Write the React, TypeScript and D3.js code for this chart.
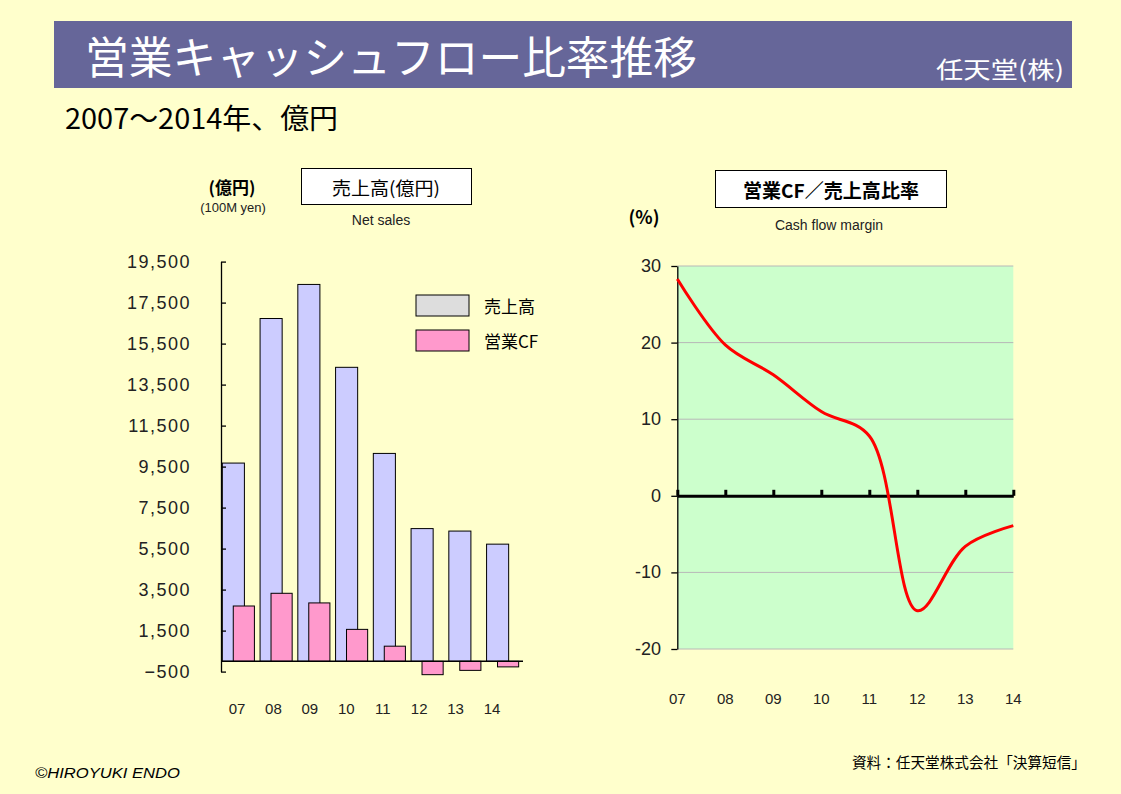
import { useEffect, useRef } from "react";
import * as d3 from "d3";

// fiscal years (20xx) and values
const years = ["07", "08", "09", "10", "11", "12", "13", "14"];
const netSales = [9672, 16724, 18386, 14343, 10143, 6476, 6355, 5717];
const operatingCF = [2700, 3320, 2850, 1560, 740, -650, -440, -270];
const cfMargin = [28.3, 19.7, 15.8, 11.0, 7.8, -15.0, -6.6, -3.9];
const salesTicks = [19500, 17500, 15500, 13500, 11500, 9500, 7500, 5500, 3500, 1500, -500];
const marginTicks = [30, 20, 10, 0, -10, -20];
const legendItems = [
  { label: "売上高", color: "#DDDDDD" },
  { label: "営業CF", color: "#FF99CC" },
];

const JP = "'Noto Sans CJK JP', 'Noto Sans', sans-serif";
const NUM = "'Liberation Sans', Arial, sans-serif";

export default function App() {
  const ref = useRef<HTMLDivElement>(null);

  useEffect(() => {
    document.body.style.margin = "0";
    const container = d3.select(ref.current);
    container.select("svg").remove();

    const W = 1121;
    const H = 794;
    const svg = container.append("svg")
      .attr("width", W)
      .attr("height", H)
      .style("display", "block");

    svg.append("rect").attr("width", W).attr("height", H).attr("fill", "#FFFFCC");

    // header bar
    svg.append("rect")
      .attr("x", 54).attr("y", 21).attr("width", 1018).attr("height", 67)
      .attr("fill", "#666699");
    svg.append("text")
      .attr("x", 85).attr("y", 55)
      .attr("dominant-baseline", "central")
      .attr("font-family", JP).attr("font-size", 44).attr("fill", "#fff")
      .attr("textLength", 612).attr("lengthAdjust", "spacingAndGlyphs")
      .text("営業キャッシュフロー比率推移");
    svg.append("text")
      .attr("x", 936).attr("y", 68)
      .attr("dominant-baseline", "central")
      .attr("font-family", JP).attr("font-size", 23).attr("fill", "#fff")
      .attr("textLength", 128).attr("lengthAdjust", "spacingAndGlyphs")
      .text("任天堂(株)");
    svg.append("text")
      .attr("x", 65).attr("y", 117)
      .attr("dominant-baseline", "central")
      .attr("font-family", JP).attr("font-size", 28).attr("fill", "#000")
      .attr("textLength", 273).attr("lengthAdjust", "spacingAndGlyphs")
      .text("2007～2014年、億円");

    // ---------- left chart: net sales and operating CF ----------
    const xL = d3.scaleBand().domain(years).range([221, 523]);
    const xLabel = d3.scalePoint().domain(years).range([237, 492]);
    const yL = d3.scaleLinear().domain([-500, 19500]).range([671.6, 261.6]);
    const bw = xL.bandwidth();

    const left = svg.append("g");

    left.append("text")
      .attr("x", 232).attr("y", 186).attr("text-anchor", "middle")
      .attr("dominant-baseline", "central")
      .attr("font-family", JP).attr("font-size", 17).attr("font-weight", "bold")
      .text("(億円)");
    left.append("text")
      .attr("x", 233).attr("y", 207).attr("text-anchor", "middle")
      .attr("dominant-baseline", "central")
      .attr("font-family", NUM).attr("font-size", 13).attr("fill", "#222")
      .text("(100M yen)");
    left.append("rect")
      .attr("x", 301.5).attr("y", 168.5).attr("width", 170).attr("height", 36)
      .attr("fill", "#fff").attr("stroke", "#000");
    left.append("text")
      .attr("x", 386).attr("y", 187).attr("text-anchor", "middle")
      .attr("dominant-baseline", "central")
      .attr("font-family", JP).attr("font-size", 18)
      .attr("textLength", 108).attr("lengthAdjust", "spacingAndGlyphs")
      .text("売上高(億円)");
    left.append("text")
      .attr("x", 381).attr("y", 220).attr("text-anchor", "middle")
      .attr("dominant-baseline", "central")
      .attr("font-family", NUM).attr("font-size", 14).attr("fill", "#222")
      .text("Net sales");

    left.selectAll(".sales")
      .data(netSales)
      .join("rect")
      .attr("x", (_, i) => (xL(years[i]) ?? 0) + bw * 0.035)
      .attr("width", bw * 0.585)
      .attr("y", d => yL(d))
      .attr("height", d => yL(0) - yL(d))
      .attr("fill", "#CCCCFF")
      .attr("stroke", "#000")
      .attr("stroke-width", 1);

    left.selectAll(".cf")
      .data(operatingCF)
      .join("rect")
      .attr("x", (_, i) => (xL(years[i]) ?? 0) + bw * 0.325)
      .attr("width", bw * 0.56)
      .attr("y", d => Math.min(yL(d), yL(0)))
      .attr("height", d => Math.abs(yL(0) - yL(d)))
      .attr("fill", "#FF99CC")
      .attr("stroke", "#000")
      .attr("stroke-width", 1);

    // y axis, ticks pointing into the plot
    const axL = left.append("g")
      .attr("transform", "translate(221,0)")
      .call(d3.axisRight(yL).tickValues(salesTicks).tickSize(5).tickSizeOuter(0).tickFormat(() => ""));
    axL.selectAll("path, line").attr("stroke", "#000").attr("stroke-width", 1.3);

    left.selectAll(".ylab")
      .data(salesTicks)
      .join("text")
      .attr("x", 191).attr("y", d => yL(d))
      .attr("text-anchor", "end")
      .attr("dominant-baseline", "central")
      .attr("font-family", NUM).attr("font-size", 18).attr("fill", "#222")
      .attr("letter-spacing", 1.5)
      .text(d => d3.format(",")(d));

    left.append("line")
      .attr("x1", 221).attr("x2", 523)
      .attr("y1", yL(0)).attr("y2", yL(0))
      .attr("stroke", "#000").attr("stroke-width", 1.5);

    left.selectAll(".xlab")
      .data(years)
      .join("text")
      .attr("x", d => xLabel(d) ?? 0).attr("y", 708)
      .attr("text-anchor", "middle")
      .attr("dominant-baseline", "central")
      .attr("font-family", NUM).attr("font-size", 15).attr("fill", "#222")
      .text(d => d);

    // legend
    const leg = left.selectAll(".leg")
      .data(legendItems)
      .join("g")
      .attr("transform", (_, i) => `translate(416,${295 + i * 35})`);
    leg.append("rect")
      .attr("width", 53).attr("height", 21)
      .attr("fill", d => d.color).attr("stroke", "#000");
    leg.append("text")
      .attr("x", 68).attr("y", 10.5)
      .attr("dominant-baseline", "central")
      .attr("font-family", JP).attr("font-size", 17)
      .text(d => d.label);

    // ---------- right chart: cash flow margin ----------
    const xR = d3.scalePoint().domain(years).range([677.3, 1013.3]);
    const yR = d3.scaleLinear().domain([-20, 30]).range([649, 266]);

    const right = svg.append("g");

    right.append("text")
      .attr("x", 644).attr("y", 216).attr("text-anchor", "middle")
      .attr("dominant-baseline", "central")
      .attr("font-family", JP).attr("font-size", 18).attr("font-weight", "bold")
      .text("(%)");
    right.append("rect")
      .attr("x", 715.5).attr("y", 170.5).attr("width", 231).attr("height", 37)
      .attr("fill", "#fff").attr("stroke", "#000");
    right.append("text")
      .attr("x", 831).attr("y", 189).attr("text-anchor", "middle")
      .attr("dominant-baseline", "central")
      .attr("font-family", JP).attr("font-size", 19).attr("font-weight", "bold")
      .attr("textLength", 176).attr("lengthAdjust", "spacingAndGlyphs")
      .text("営業CF／売上高比率");
    right.append("text")
      .attr("x", 829).attr("y", 225).attr("text-anchor", "middle")
      .attr("dominant-baseline", "central")
      .attr("font-family", NUM).attr("font-size", 14).attr("fill", "#222")
      .text("Cash flow margin");

    right.append("rect")
      .attr("x", 677.3).attr("y", yR(30))
      .attr("width", 336).attr("height", yR(-20) - yR(30))
      .attr("fill", "#CCFFCC");

    right.selectAll(".grid")
      .data(marginTicks.filter(d => d !== 0))
      .join("line")
      .attr("x1", 677.3).attr("x2", 1013.3)
      .attr("y1", d => yR(d)).attr("y2", d => yR(d))
      .attr("stroke", "#B8B8B8").attr("stroke-width", 1);

    const axR = right.append("g")
      .attr("transform", "translate(677.3,0)")
      .call(d3.axisLeft(yR).tickValues(marginTicks).tickSize(6).tickSizeOuter(0).tickFormat(() => ""));
    axR.selectAll("path, line").attr("stroke", "#000").attr("stroke-width", 1.3);

    right.selectAll(".ylab")
      .data(marginTicks)
      .join("text")
      .attr("x", 661).attr("y", d => yR(d))
      .attr("text-anchor", "end")
      .attr("dominant-baseline", "central")
      .attr("font-family", NUM).attr("font-size", 18).attr("fill", "#222")
      .text(d => d);

    const axZero = right.append("g")
      .attr("transform", `translate(0,${yR(0)})`)
      .call(d3.axisTop(xR).tickSize(6).tickSizeOuter(0).tickFormat(() => ""));
    axZero.selectAll("path, line").attr("stroke", "#000").attr("stroke-width", 3);

    const line = d3.line<number>()
      .x((_, i) => xR(years[i]) ?? 0)
      .y(d => yR(d))
      .curve(d3.curveCatmullRom.alpha(0.5));

    right.append("path")
      .datum(cfMargin)
      .attr("fill", "none")
      .attr("stroke", "#FF0000")
      .attr("stroke-width", 3)
      .attr("stroke-linejoin", "round")
      .attr("d", line);

    right.selectAll(".xlab")
      .data(years)
      .join("text")
      .attr("x", d => xR(d) ?? 0).attr("y", 698)
      .attr("text-anchor", "middle")
      .attr("dominant-baseline", "central")
      .attr("font-family", NUM).attr("font-size", 15).attr("fill", "#222")
      .text(d => d);

    // footer
    svg.append("text")
      .attr("x", 1086).attr("y", 761).attr("text-anchor", "end")
      .attr("dominant-baseline", "central")
      .attr("font-family", JP).attr("font-size", 15)
      .attr("textLength", 234).attr("lengthAdjust", "spacingAndGlyphs")
      .text("資料：任天堂株式会社「決算短信」");
    svg.append("text")
      .attr("x", 35).attr("y", 773)
      .attr("dominant-baseline", "central")
      .attr("font-family", NUM).attr("font-size", 14).attr("font-style", "italic")
      .attr("textLength", 145).attr("lengthAdjust", "spacingAndGlyphs")
      .text("©HIROYUKI ENDO");
  }, []);

  return <div ref={ref}></div>;
}
